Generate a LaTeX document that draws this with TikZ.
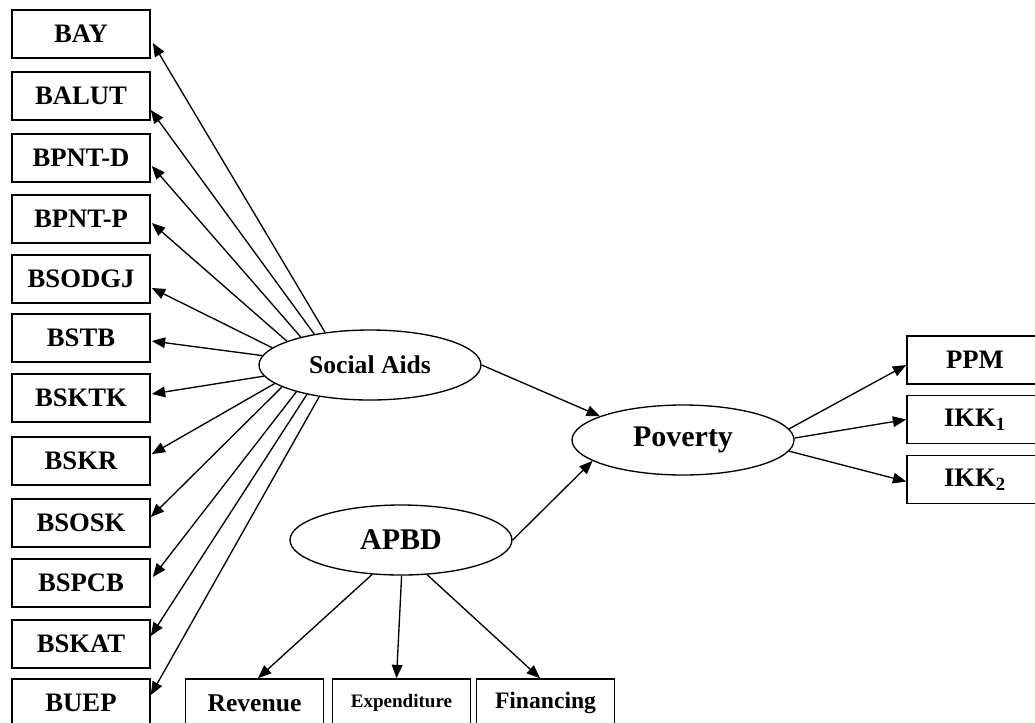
\documentclass[tikz,border=0pt]{standalone}
\usepackage{fontspec}
\setmainfont{Liberation Serif}
\usetikzlibrary{shapes.geometric,arrows.meta,calc}
\begin{document}
\begin{tikzpicture}[x=0.75pt,y=-0.75pt,
  box/.style={draw, line width=1.2pt, minimum width=103.5pt, minimum height=36pt, inner sep=0pt,
    font=\bfseries\fontsize{20}{22}\selectfont},
  rbox/.style={box, minimum width=102pt},
  lat/.style={draw, ellipse, line width=1pt, minimum width=166.5pt, minimum height=52.5pt, inner sep=0pt,
    font=\bfseries\fontsize{19.2}{21}\selectfont},
  biglat/.style={lat, font=\bfseries\fontsize{22.5}{24}\selectfont},
  arr/.style={-{Triangle[length=10pt,width=8pt]}, line width=1pt}]
\path[use as bounding box, fill=white] (0,0) rectangle (1035,722);
\clip (0,0) rectangle (1035,722);

% left indicator boxes
\node[box] (bay)    at (81,34)  {BAY};
\node[box] (balut)  at (81,96)  {BALUT};
\node[box] (bpntd)  at (81,158) {BPNT-D};
\node[box] (bpntp)  at (81,219) {BPNT-P};
\node[box] (bsodgj) at (81,279) {BSODGJ};
\node[box] (bstb)   at (81,338) {BSTB};
\node[box] (bsktk)  at (81,398) {BSKTK};
\node[box] (bskr)   at (81,461) {BSKR};
\node[box] (bsosk)  at (81,523) {BSOSK};
\node[box] (bspcb)  at (81,583) {BSPCB};
\node[box] (bskat)  at (81,644) {BSKAT};
\node[box] (buep)   at (81,703) {BUEP};

% latent variables
\node[lat] (sa) at (370,365) {Social Aids};
\node[biglat] (pov) at (683,440) {Poverty};
\node[biglat] (apbd) at (401,540) {APBD};

% right boxes
\node[rbox] (ppm)  at (975,360)   {PPM};
\node[rbox] (ikka) at (975,419.5) {IKK\textsubscript{1}};
\node[rbox] (ikkb) at (975,479.5) {IKK\textsubscript{2}};

% bottom boxes
\node[box, font=\bfseries\fontsize{19.2}{21}\selectfont] (rev) at (254.5,703) {Revenue};
\node[box, font=\bfseries\fontsize{14.3}{16}\selectfont] (exp) at (401.5,703) {Expenditure};
\node[box, font=\bfseries\fontsize{17.7}{19}\selectfont] (fin) at (545.5,703) {Financing};

% Social Aids fan
\draw[arr] (sa.144.9) -- ($(bay.east)+(2,9)$);
\draw[arr] (sa.151.9) -- ($(balut.east)+(0,14)$);
\draw[arr] (sa.158.2) -- ($(bpntd.east)+(1,8)$);
\draw[arr] (sa.164.9) -- ($(bpntp.east)+(1,4)$);
\draw[arr] (sa.170.2) -- ($(bsodgj.east)+(1,9)$);
\draw[arr] (sa.175.8) -- ($(bstb.east)+(1,3)$);
\draw[arr] (sa.186.9) -- ($(bsktk.east)+(1,-4)$);
\draw[arr] (sa.191.0) -- ($(bskr.east)+(1,-7)$);
\draw[arr] (sa.194.8) -- ($(bsosk.east)+(0,-6)$);
\draw[arr] (sa.200.5) -- ($(bspcb.east)+(2,-6)$);
\draw[arr] (sa.205.5) -- ($(bskat.east)+(0,-8)$);
\draw[arr] (sa.212.6) -- ($(buep.east)+(0,-8)$);

% structural paths
\draw[arr] (sa.east) -- (pov.164.4);
\draw[arr] (apbd.east) -- (pov.193.6);

% Poverty indicators
\draw[arr] (pov.6.5) -- ($(ppm.west)+(0,5)$);
\draw[arr] (pov.1) -- (ikka.west);
\draw[arr] (pov.-6.4) -- ($(ikkb.west)+(0,2)$);

% APBD indicators
\draw[arr] (apbd.230.4) -- ($(rev.north)+(3.5,0)$);
\draw[arr] (apbd.271.6) -- ($(exp.north)+(-5,0)$);
\draw[arr] (apbd.307.4) -- ($(fin.north)+(-5.5,0)$);
\end{tikzpicture}
\end{document}
